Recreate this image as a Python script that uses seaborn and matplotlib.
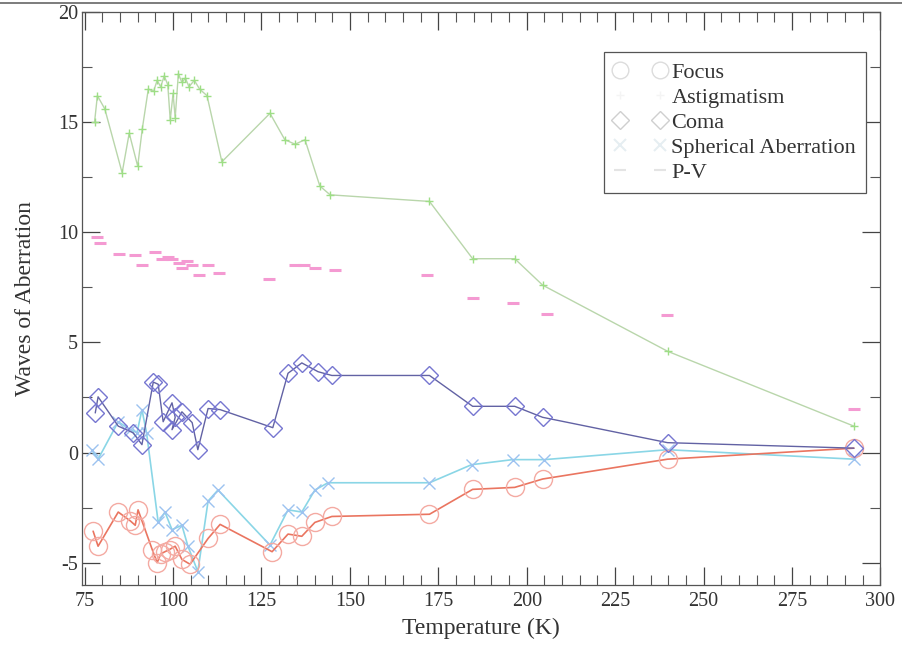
import matplotlib
matplotlib.use("Agg")
import matplotlib.pyplot as plt
from matplotlib.lines import Line2D
from matplotlib.ticker import MultipleLocator
import seaborn as sns
import numpy as np

# ---- data ----
focus_T = [77.4, 78.8, 84.5, 87.9, 89.3, 90.1, 94.1, 95.5, 96.5, 97.7, 99.0, 100.6, 102.5, 104.8,
           109.9, 113.3, 128.0, 132.5, 136.4, 140.1, 144.9, 172.5, 184.7, 196.6, 204.5, 239.8, 292.5]
focus_v = [-3.57, -4.25, -2.7, -3.1, -3.3, -2.6, -4.4, -5.0, -4.6, -4.5, -4.4, -4.25, -4.85, -5.07,
           -3.9, -3.26, -4.5, -3.7, -3.8, -3.17, -2.9, -2.8, -1.67, -1.58, -1.2, -0.3, 0.2]

astig_T = [77.8, 78.6, 80.7, 85.6, 87.6, 90.0, 91.3, 93.0, 94.5, 95.5, 96.5, 97.5, 98.5, 99.2, 100.0,
           100.6, 101.5, 102.5, 103.5, 104.5, 106.0, 107.5, 109.6, 113.8, 127.4, 131.6, 134.5, 137.3,
           141.5, 144.4, 172.5, 184.7, 196.6, 204.5, 239.8, 292.5]
astig_v = [15.0, 16.2, 15.6, 12.7, 14.5, 13.0, 14.7, 16.5, 16.4, 16.9, 16.6, 17.1, 16.7, 15.1, 16.3,
           15.2, 17.2, 16.8, 17.0, 16.6, 16.9, 16.5, 16.2, 13.2, 15.4, 14.2, 14.0, 14.2,
           12.1, 11.7, 11.4, 8.8, 8.8, 7.6, 4.6, 1.2]

coma_T = [78.0, 78.8, 84.5, 88.7, 91.2, 94.4, 95.8, 97.2, 99.7, 100.6, 99.7, 102.5, 105.4, 107.0,
          109.9, 113.3, 128.2, 132.5, 136.4, 141.0, 144.9, 172.5, 184.7, 196.6, 204.5, 239.8, 292.5]
coma_v = [1.8, 2.53, 1.2, 0.9, 0.36, 3.2, 3.1, 1.4, 2.26, 1.6, 1.04, 1.85, 1.36, 0.13,
          2.0, 1.95, 1.13, 3.6, 4.07, 3.67, 3.5, 3.5, 2.1, 2.1, 1.6, 0.45, 0.2]

spher_T = [77.0, 78.8, 84.5, 87.9, 89.8, 91.2, 92.5, 95.8, 97.7, 99.7, 102.5, 104.2, 107.0, 109.9,
           112.7, 127.4, 132.5, 136.4, 140.1, 143.8, 172.5, 184.4, 196.0, 205.0, 239.8, 292.5]
spher_v = [0.13, -0.3, 1.4, 1.04, 0.9, 1.95, 0.9, -3.17, -2.7, -3.5, -3.3, -4.25, -5.4, -2.2,
           -1.7, -4.2, -2.6, -2.7, -1.7, -1.37, -1.37, -0.55, -0.32, -0.32, 0.13, -0.3]

pv_T = [78.6, 79.3, 84.7, 89.3, 91.2, 95.0, 96.9, 98.5, 99.7, 101.7, 102.5, 104.0, 105.4, 107.3,
        110.0, 113.0, 127.0, 134.5, 137.0, 140.0, 145.7, 171.7, 184.7, 196.0, 205.7, 239.6, 292.5]
pv_v = [9.8, 9.5, 9.0, 8.96, 8.5, 9.1, 8.8, 8.9, 8.8, 8.6, 8.4, 8.7, 8.5, 8.05,
        8.5, 8.15, 7.9, 8.5, 8.5, 8.4, 8.3, 8.05, 7.0, 6.8, 6.3, 6.25, 2.0]

x_ticks = [75, 100, 125, 150, 175, 200, 225, 250, 275, 300]
y_ticks = [-5, 0, 5, 10, 15, 20]

# ---- style ----
sns.set_theme(style="ticks")
plt.rcParams["font.family"] = ["Liberation Serif", "DejaVu Serif"]
plt.rcParams["axes.unicode_minus"] = False

fig = plt.figure(figsize=(9.03, 6.66), dpi=100)
ax = fig.add_axes([0.091, 0.122, 0.884, 0.860])

common = dict(sort=False, estimator=None, ax=ax, legend=False)

sns.lineplot(x=astig_T, y=astig_v, color="#b9d6ab", lw=1.0, marker="+",
             markersize=6, markeredgecolor="#9ede86", markeredgewidth=1.0, **common)
sns.lineplot(x=pv_T, y=pv_v, color="#f4a6d6", linestyle="", marker="_",
             markersize=9, markeredgecolor="#f49ad2", markeredgewidth=2.2, **common)
sns.lineplot(x=spher_T, y=spher_v, color="#8ad6e6", lw=1.2, marker="x",
             markersize=8, markeredgecolor="#9cc2f0", markeredgewidth=1.0, **common)
sns.lineplot(x=focus_T, y=focus_v, color="#ea7560", lw=1.2, marker="o",
             markersize=13, markerfacecolor="none", markeredgecolor="#f4aaa2",
             markeredgewidth=1.0, **common)
sns.lineplot(x=coma_T, y=coma_v, color="#6262a4", lw=1.0, marker="D",
             markersize=9, markerfacecolor="none", markeredgecolor="#7676d0",
             markeredgewidth=1.0, **common)

ax.set_xlim(74.3, 300)
ax.set_ylim(-6, 20)
ax.set_xticks(x_ticks)
ax.set_yticks(y_ticks)
ax.xaxis.set_minor_locator(MultipleLocator(5))
ax.yaxis.set_minor_locator(MultipleLocator(2.5))
ax.tick_params(which="major", direction="in", length=13, width=0.9, top=True, right=True,
               labelsize=14.5, colors="#444444", pad=5)
ax.tick_params(which="minor", direction="in", length=7, width=0.8, top=True, right=True,
               colors="#555555")
ax.tick_params(axis="y", which="major", pad=3)
ax.tick_params(axis="both", labelcolor="#333333")
for s in ax.spines.values():
    s.set_color("#555555")
    s.set_linewidth(0.9)

ax.set_xlabel("Temperature (K)", fontsize=17, color="#333333", labelpad=5)
ax.set_ylabel("Waves of Aberration", fontsize=17, color="#333333", labelpad=16)

handles = [
    Line2D([], [], linestyle="", marker="o", markersize=12, markerfacecolor="none",
           markeredgecolor="#dcdcdc", markeredgewidth=1.0),
    Line2D([], [], linestyle="", marker="+", markersize=6, markeredgecolor="#f4f4f4"),
    Line2D([], [], linestyle="", marker="D", markersize=9, markerfacecolor="none",
           markeredgecolor="#cfcfcf", markeredgewidth=1.0),
    Line2D([], [], linestyle="", marker="x", markersize=8, markeredgecolor="#e6eef2",
           markeredgewidth=1.5),
    Line2D([], [], linestyle="", marker="_", markersize=8, markeredgecolor="#e4e4e4",
           markeredgewidth=1.5),
]
labels = ["Focus", "Astigmatism", "Coma", "Spherical Aberration", "P-V"]
leg = ax.legend(handles, labels, loc="upper right", bbox_to_anchor=(0.982, 0.93),
                numpoints=2, fontsize=16, frameon=True, fancybox=False,
                edgecolor="#555555", framealpha=1, borderpad=0.45, labelspacing=0.2,
                handlelength=2.4, handletextpad=0.2, borderaxespad=0.0)
leg.get_frame().set_linewidth(0.9)
for t in leg.get_texts():
    t.set_color("#333333")

# scan edge line at the very top of the page
fig.add_artist(Line2D([0, 1], [1 - 3 / 666, 1 - 3 / 666], transform=fig.transFigure,
                      color="#666666", lw=1.2))

fig.savefig("out.png", dpi=100)
